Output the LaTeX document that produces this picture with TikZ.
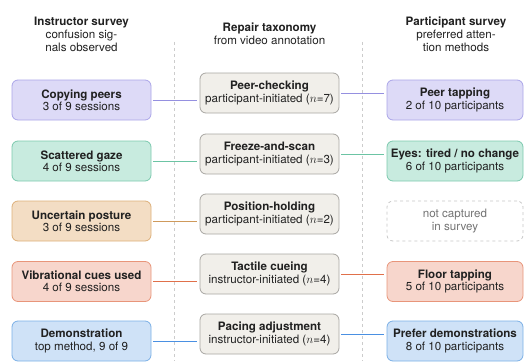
\documentclass[tikz,border=0pt]{standalone}
\usepackage{fontspec}
\setmainfont{TeX Gyre Heros}
\begin{document}
\begin{tikzpicture}[x=1pt,y=-1pt,
  every node/.style={font=\fontsize{11.6}{12.2}\selectfont, text=black!87, align=center, inner sep=0pt},
  box/.style={rounded corners=6pt, line width=0.8pt, minimum height=40pt},
  lbox/.style={box, minimum width=139pt},
  mbox/.style={box, minimum width=139pt, fill=midfill, draw=middraw},
  rbox/.style={box, minimum width=136pt},
  conn/.style={line width=0.8pt, shorten <=2pt, shorten >=2.5pt},
  sep/.style={draw=black!20, line width=0.6pt, dash pattern=on 3pt off 3pt},
  hdr/.style={font=\fontsize{11.6}{13}\selectfont}
]
\definecolor{midfill}{HTML}{F1EFEA}
\definecolor{middraw}{HTML}{A8A6A2}
\definecolor{pufill}{HTML}{DDDAF7}\definecolor{pudraw}{HTML}{ABA5E8}\definecolor{puline}{HTML}{9590E0}
\definecolor{grfill}{HTML}{C8EBDF}\definecolor{grdraw}{HTML}{7CC9AE}\definecolor{grline}{HTML}{6CC4A4}
\definecolor{orfill}{HTML}{F3DDC4}\definecolor{ordraw}{HTML}{DDB07A}\definecolor{orline}{HTML}{CF9A5C}
\definecolor{rdfill}{HTML}{F7D6CC}\definecolor{rddraw}{HTML}{E8957A}\definecolor{rdline}{HTML}{E0704A}
\definecolor{blfill}{HTML}{CFE2F7}\definecolor{bldraw}{HTML}{7BB0E6}\definecolor{blline}{HTML}{4A90E2}
\useasboundingbox (0,0) rectangle (524,361);

% separators
\coordinate (s1t) at (174,42); \coordinate (s1b) at (174,361);
\coordinate (s2t) at (362,42); \coordinate (s2b) at (362,361);
\draw[sep] (s1t) -- (s1b);
\draw[sep] (s2t) -- (s2b);

% headers
\node[hdr] (h1) at (81.5,34) {\textbf{Instructor survey}\\confusion sig-\\nals observed};
\node[hdr] (h2) at (269.5,34) {\textbf{Repair taxonomy}\\from video annotation};
\node[hdr] (h3) at (456,34) {\textbf{Participant survey}\\preferred atten-\\tion methods};

% left column
\node[lbox, fill=pufill, draw=pudraw] (L1) at (81.5,100) {\textbf{Copying peers}\\3 of 9 sessions};
\node[lbox, fill=grfill, draw=grdraw] (L2) at (81.5,161) {\textbf{Scattered gaze}\\4 of 9 sessions};
\node[lbox, fill=orfill, draw=ordraw] (L3) at (81.5,221) {\textbf{Uncertain posture}\\3 of 9 sessions};
\node[lbox, fill=rdfill, draw=rddraw] (L4) at (81.5,281.5) {\textbf{Vibrational cues used}\\4 of 9 sessions};
\node[lbox, fill=blfill, draw=bldraw] (L5) at (81.5,341) {\textbf{Demonstration}\\top method, 9 of 9};

% middle column
\node[mbox] (M1) at (269.5,93) {\textbf{Peer-checking}\\participant-initiated ($n$=7)};
\node[mbox] (M2) at (269.5,154) {\textbf{Freeze-and-scan}\\participant-initiated ($n$=3)};
\node[mbox] (M3) at (269.5,214) {\textbf{Position-holding}\\participant-initiated ($n$=2)};
\node[mbox] (M4) at (269.5,274) {\textbf{Tactile cueing}\\instructor-initiated ($n$=4)};
\node[mbox] (M5) at (269.5,334) {\textbf{Pacing adjustment}\\instructor-initiated ($n$=4)};

% right column
\node[rbox, fill=pufill, draw=pudraw] (R1) at (455,100) {\textbf{Peer tapping}\\2 of 10 participants};
\node[rbox, fill=grfill, draw=grdraw] (R2) at (455,161) {\textbf{Eyes: tired / no change}\\6 of 10 participants};
\node[rbox, draw=black!22, dashed, text=black!55] (R3) at (455,221) {not captured\\in survey};
\node[rbox, fill=rdfill, draw=rddraw] (R4) at (455,281.5) {\textbf{Floor tapping}\\5 of 10 participants};
\node[rbox, fill=blfill, draw=bldraw] (R5) at (455,341) {\textbf{Prefer demonstrations}\\8 of 10 participants};

% connectors left -> middle
\draw[conn, puline] (L1.east) -- (L1.east -| M1.west);
\draw[conn, grline] (L2.east) -- (L2.east -| M2.west);
\draw[conn, orline] (L3.east) -- (L3.east -| M3.west);
\draw[conn, rdline] (L4.east) -- (L4.east -| M4.west);
\draw[conn, blline] (L5.east) -- (L5.east -| M5.west);

% connectors middle -> right
\draw[conn, puline] (M1.east) -- (M1.east -| R1.west);
\draw[conn, grline] (M2.east) -- (M2.east -| R2.west);
\draw[conn, rdline] (M4.east) -- (M4.east -| R4.west);
\draw[conn, blline] (M5.east) -- (M5.east -| R5.west);
\end{tikzpicture}
\end{document}
